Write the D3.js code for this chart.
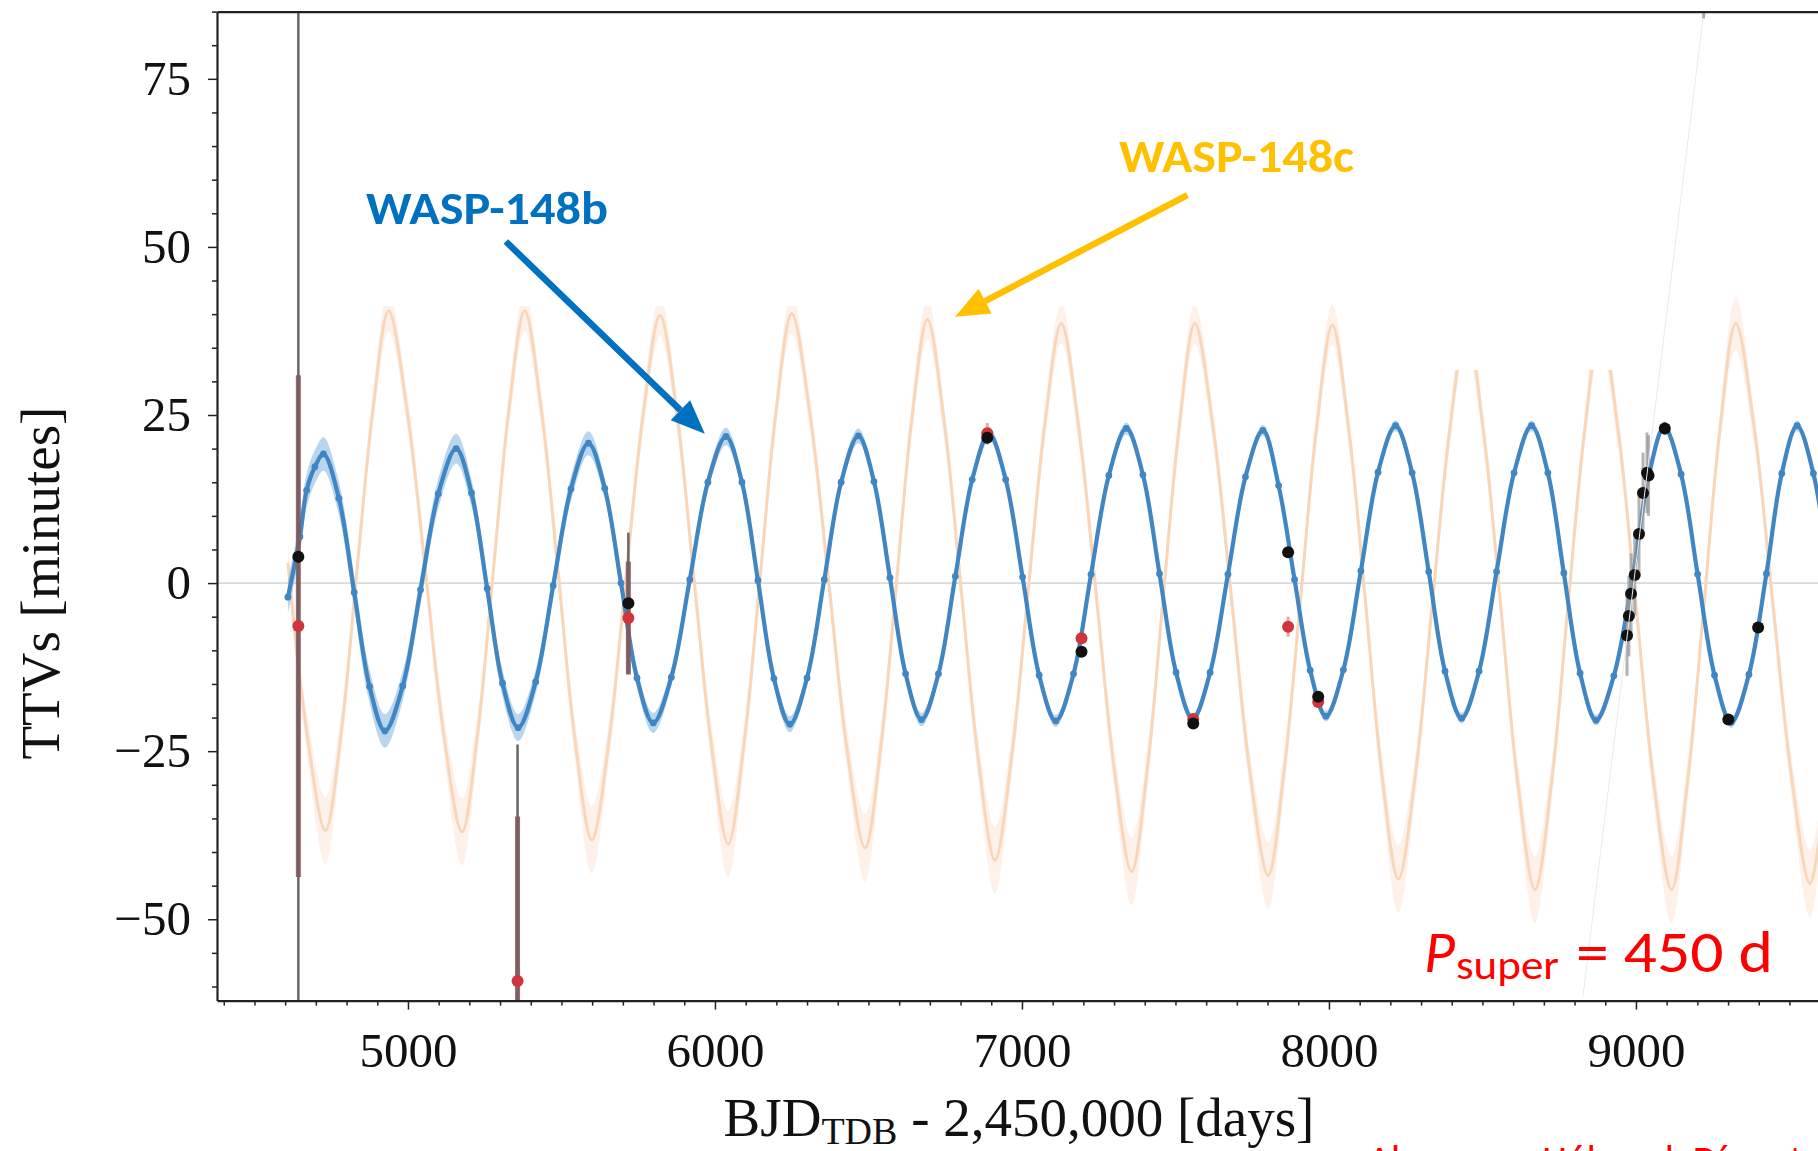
<!DOCTYPE html>
<meta charset="utf-8">
<style>
body { margin: 0; background: #fff; }
svg { display: block; }
</style>
<body>
<script src="https://d3js.org/d3.v7.min.js"></script>
<script>

// WASP-148b model TTVs (days, minutes, 1-sigma band)
var blueDays = [4609, 4648, 4670, 4697, 4725, 4775, 4825, 4875, 4925, 4983, 5041, 5099, 5157, 5207, 5258, 5308,
  5359, 5416, 5473, 5531, 5588, 5641, 5694, 5746, 5799, 5858, 5918, 5977, 6036, 6088, 6140, 6192,
  6244, 6300, 6356, 6411, 6467, 6518, 6570, 6621, 6673, 6728, 6783, 6838, 6893, 6947, 7002, 7056,
  7110, 7168, 7225, 7283, 7340, 7394, 7448, 7502, 7556, 7613, 7671, 7728, 7785, 7836, 7888, 7939,
  7990, 8047, 8104, 8160, 8217, 8271, 8325, 8378, 8432, 8489, 8546, 8603, 8660, 8713, 8765, 8818,
  8870, 8928, 8988, 9042, 9092, 9147, 9201, 9256, 9310, 9368, 9425, 9475, 9525, 9578, 9630];
var blueTTV = [-2.1, 6.9, 13.8, 17.3, 19.2, 12.6, -1.4, -15.4, -22.0, -15.3, -1.0, 13.3, 20.0, 13.4, -0.8, -14.9,
  -21.5, -14.7, -0.4, 14.0, 20.8, 14.1, 0.0, -14.1, -20.8, -14.0, 0.5, 15.0, 21.8, 15.0, 0.4, -14.2,
  -21.0, -14.1, 0.5, 15.0, 21.9, 15.1, 0.8, -13.5, -20.3, -13.5, 1.0, 15.4, 22.2, 15.4, 0.9, -13.7,
  -20.5, -13.5, 1.3, 16.0, 23.0, 16.1, 1.4, -13.3, -20.2, -13.3, 1.3, 15.8, 22.7, 14.5, 0.5, -13.0,
  -19.8, -12.9, 1.8, 16.5, 23.4, 16.4, 1.7, -13.1, -20.1, -13.1, 1.7, 16.4, 23.4, 16.4, 1.5, -13.4,
  -20.4, -13.8, 0.5, 16.0, 23.2, 16.2, 1.3, -13.7, -20.7, -13.6, 1.4, 16.3, 23.4, 16.3, 1.4];
var blueErr = [2.5, 2.5, 2.5, 2.5, 2.5, 2.5, 2.5, 2.5, 2.5, 2.2, 2.2, 2.2, 2.2, 2.0, 2.0, 2.0,
  2.0, 1.8, 1.8, 1.8, 1.8, 1.5, 1.5, 1.5, 1.5, 1.3, 1.3, 1.3, 1.3, 1.2, 1.2, 1.2,
  1.2, 1.1, 1.1, 1.1, 1.1, 1.0, 1.0, 1.0, 1.0, 1.0, 1.0, 1.0, 1.0, 0.9, 0.9, 0.9,
  0.9, 0.9, 0.9, 0.9, 0.9, 0.8, 0.8, 0.8, 0.8, 0.8, 0.8, 0.8, 0.8, 0.8, 0.8, 0.8,
  0.8, 0.8, 0.8, 0.8, 0.8, 0.8, 0.8, 0.8, 0.8, 0.8, 0.8, 0.8, 0.8, 0.8, 0.8, 0.8,
  0.8, 0.8, 0.8, 0.8, 0.8, 0.8, 0.8, 0.8, 0.8, 0.8, 0.8, 0.8, 0.8, 0.8, 0.8];

// WASP-148c model TTVs
var orangeDays = [4609, 4670, 4731, 4783, 4834, 4886, 4937, 4997, 5057, 5116, 5176, 5227, 5278, 5329, 5380, 5435,
  5490, 5544, 5599, 5655, 5710, 5766, 5821, 5877, 5932, 5988, 6043, 6095, 6147, 6198, 6250, 6310,
  6370, 6429, 6489, 6540, 6591, 6641, 6692, 6747, 6802, 6857, 6912, 6966, 7020, 7074, 7128, 7185,
  7243, 7300, 7357, 7409, 7460, 7512, 7563, 7623, 7683, 7742, 7802, 7854, 7907, 7959, 8011, 8065,
  8119, 8172, 8226, 8282, 8337, 8393, 8448, 8504, 8560, 8615, 8671, 8725, 8778, 8832, 8885, 8943,
  9001, 9058, 9116, 9168, 9221, 9273, 9325, 9386, 9446, 9507, 9567, 9620];
var orangeTTV = [3.0, -22.0, -36.8, -22.1, 1.9, 25.8, 40.5, 25.8, 1.8, -22.3, -37.0, -22.3, 1.8, 25.8, 40.5, 25.6,
  1.2, -23.3, -38.2, -23.4, 0.8, 25.0, 39.8, 24.9, 0.5, -23.9, -38.8, -23.8, 0.7, 25.1, 40.1, 25.0,
  0.4, -24.3, -39.4, -24.5, -0.1, 24.3, 39.2, 23.9, -1.0, -25.9, -41.2, -26.0, -1.3, 23.4, 38.6, 23.1,
  -2.2, -27.4, -42.9, -27.4, -2.2, 23.1, 38.6, 23.0, -2.5, -27.9, -43.5, -27.9, -2.6, 22.8, 38.4, 22.7,
  -2.8, -28.3, -44.0, -28.4, -2.9, 22.6, 38.2, 22.3, -3.7, -29.7, -45.6, -29.7, -3.7, 22.3, 38.2, 22.3,
  -3.7, -29.7, -45.6, -29.6, -3.5, 22.6, 38.6, 22.8, -3.1, -28.9, -44.7, -29.0];
var orangeErr = [3, 3, 5, 3, 2.5, 2.5, 3, 2.5, 2.5, 3, 5, 3, 2.5, 2.5, 3, 2.5,
  2.5, 3, 5, 3, 2.5, 2.5, 3, 2.5, 2.5, 3, 5, 3, 2.5, 2.5, 3, 2.5,
  2.5, 3, 5, 3, 2.5, 2.5, 3, 2.5, 2.5, 3, 5, 3, 2.5, 2.5, 3, 2.5,
  2.5, 3, 5, 3, 2.5, 2.5, 3, 2.5, 2.5, 3, 5, 3, 2.5, 2.5, 3, 2.5,
  2.5, 3, 5, 3, 2.5, 2.5, 3, 2.5, 2.5, 3, 5, 3, 2.5, 2.5, 3, 2.5,
  2.5, 3, 5, 3, 2.5, 2.5, 4, 2.5, 2.5, 3, 5, 3];

// observed transits (black) and alternative fit (red)
var obsDays = [4643, 5357, 5718, 6887, 7194, 7558, 7867, 7965, 8971, 8977, 8984, 8996, 9010, 9023, 9036, 9041, 9094, 9301, 9398];
var obsTTV  = [3.9, -64.0, -3.0, 21.6, -10.2, -20.9, 4.6, -16.9, -7.8, -4.9, -1.6, 1.2, 7.3, 13.4, 16.4, 16.0, 23.0, -20.3, -6.6];
var obsErr  = [120, 40, 10.5, 1.0, 0.8, 0.8, 0.8, 0.8, 6, 6, 6, 6, 6, 6, 6, 6, 1.0, 0.8, 0.8];
var altDays = [4643, 5357, 5718, 6887, 7194, 7558, 7867, 7965];
var altTTV  = [-6.4, -59.2, -5.2, 22.3, -8.2, -20.2, -6.5, -17.7];
var altErr  = [37.3, 24.5, 8.4, 1.5, 0.8, 0.8, 1.5, 0.8];

// white patches pasted over the figure (day range, lower TTV edge)
var patchFrom  = [4660, 8052];
var patchTo    = [7977, 8990];
var patchFloor = [41.2, 31.7];

// tick labels
var xMajor = [5000, 6000, 7000, 8000, 9000];
var yMajor = [-50, -25, 0, 25, 50, 75];

var W = 1818, H = 1151;
var x = d3.scaleLinear().domain([4378, 9593]).range([217, 1818]);
var y = d3.scaleLinear().domain([-62.1, 85]).range([1000.6, 11.6]);

var blue = blueDays.map(function(d, i) { return {day: d, ttv: blueTTV[i], err: blueErr[i]}; });
var orange = orangeDays.map(function(d, i) { return {day: d, ttv: orangeTTV[i], err: orangeErr[i]}; });
var obs = obsDays.map(function(d, i) { return {day: d, ttv: obsTTV[i], err: obsErr[i]}; });
var alt = altDays.map(function(d, i) { return {day: d, ttv: altTTV[i], err: altErr[i]}; });

var svg = d3.select("body").append("svg")
    .attr("width", W)
    .attr("height", H)
    .style("background", "#fff");

svg.append("clipPath").attr("id", "plot")
  .append("rect")
    .attr("x", x.range()[0]).attr("y", y.range()[1])
    .attr("width", x.range()[1] - x.range()[0])
    .attr("height", y.range()[0] - y.range()[1]);

var g = svg.append("g").attr("clip-path", "url(#plot)");

// zero line
g.append("line")
    .attr("x1", x.range()[0]).attr("x2", x.range()[1])
    .attr("y1", y(0)).attr("y2", y(0))
    .attr("stroke", "#dadada").attr("stroke-width", 1.8);

var curve = d3.curveCatmullRom.alpha(0.5);
var band = d3.area()
    .x(function(d) { return x(d.day); })
    .y0(function(d) { return y(d.ttv - d.err); })
    .y1(function(d) { return y(d.ttv + d.err); })
    .curve(curve);
var line = d3.line()
    .x(function(d) { return x(d.day); })
    .y(function(d) { return y(d.ttv); })
    .curve(curve);

// planet c
g.append("path").datum(orange).attr("d", band)
    .attr("fill", "#fdeee3").attr("opacity", 0.8);
g.append("path").datum(orange).attr("d", line)
    .attr("fill", "none").attr("stroke", "#f8d6ba").attr("stroke-width", 3);

// planet b
g.append("path").datum(blue).attr("d", band)
    .attr("fill", "#8cbbe2").attr("opacity", 0.6);
g.append("path").datum(blue).attr("d", line)
    .attr("fill", "none").attr("stroke", "#3f86c2").attr("stroke-width", 4.2);
g.selectAll(".bdot").data(blue).enter().append("circle")
    .attr("class", "bdot")
    .attr("cx", function(d) { return x(d.day); })
    .attr("cy", function(d) { return y(d.ttv); })
    .attr("r", 3.4)
    .attr("fill", "#3f86c2");

// error bars
g.selectAll(".aerr").data(alt).enter().append("line")
    .attr("class", "aerr")
    .attr("x1", function(d) { return x(d.day); })
    .attr("x2", function(d) { return x(d.day); })
    .attr("y1", function(d) { return y(d.ttv - d.err); })
    .attr("y2", function(d) { return y(d.ttv + d.err); })
    .attr("stroke", function(d) { return d.err > 5 ? "#9e5058" : "#f19a9a"; })
    .attr("stroke-width", function(d) { return d.err > 5 ? 5 : 3; })
    .attr("opacity", 0.9);
g.selectAll(".oerr").data(obs).enter().append("line")
    .attr("class", "oerr")
    .attr("x1", function(d) { return x(d.day); })
    .attr("x2", function(d) { return x(d.day); })
    .attr("y1", function(d) { return y(d.ttv - d.err); })
    .attr("y2", function(d) { return y(d.ttv + d.err); })
    .attr("stroke", function(d) { return d.err > 8 ? "#666" : "#9a9a9a"; })
    .attr("stroke-width", function(d) { return d.err > 8 ? 2.5 : 3; })
    .attr("opacity", function(d) { return d.err > 8 ? 1 : 0.75; });

g.selectAll(".adot").data(alt).enter().append("circle")
    .attr("class", "adot")
    .attr("cx", function(d) { return x(d.day); })
    .attr("cy", function(d) { return y(d.ttv); })
    .attr("r", 6)
    .attr("fill", "#cf353c");
g.selectAll(".odot").data(obs).enter().append("circle")
    .attr("class", "odot")
    .attr("cx", function(d) { return x(d.day); })
    .attr("cy", function(d) { return y(d.ttv); })
    .attr("r", 6)
    .attr("fill", "#111");

// pasted white patches
g.selectAll(".patch").data(patchFrom).enter().append("rect")
    .attr("class", "patch")
    .attr("x", function(d) { return x(d); })
    .attr("width", function(d, i) { return x(patchTo[i]) - x(d); })
    .attr("y", y(85))
    .attr("height", function(d, i) { return y(patchFloor[i]) - y(85); })
    .attr("fill", "#fff");

// faint slanted edge of the pasted image
g.append("line")
    .attr("x1", x(9221)).attr("y1", y(85))
    .attr("x2", x(8827)).attr("y2", y(-61.6))
    .attr("stroke", "#ebebeb").attr("stroke-width", 1);
g.append("line")
    .attr("x1", x(9221)).attr("y1", y(85))
    .attr("x2", x(9220)).attr("y2", y(84))
    .attr("stroke", "#aaa").attr("stroke-width", 3);

// axes
var fmt = function(d) { return d < 0 ? "\u2212" + Math.abs(d) : d; };
var serif = "'Liberation Serif', 'Times New Roman', serif";

svg.append("g")
    .attr("transform", "translate(" + x.range()[0] + ",0)")
    .call(d3.axisLeft(y).tickValues(yMajor).tickSize(9).tickSizeOuter(0).tickPadding(17).tickFormat(fmt));
svg.append("g")
    .attr("transform", "translate(" + x.range()[0] + ",0)")
    .call(d3.axisLeft(y).tickValues(d3.range(-60, 86, 5).filter(function(v) { return v % 25 !== 0; }))
      .tickSize(5).tickSizeOuter(0).tickFormat(""))
    .select(".domain").remove();

svg.append("g")
    .attr("transform", "translate(0," + y.range()[0] + ")")
    .call(d3.axisBottom(x).tickValues(xMajor).tickSize(9).tickSizeOuter(0).tickPadding(23).tickFormat(d3.format("d")));
svg.append("g")
    .attr("transform", "translate(0," + y.range()[0] + ")")
    .call(d3.axisBottom(x).tickValues(d3.range(4400, 9600, 100).filter(function(v) { return v % 1000 !== 0; }))
      .tickSize(5).tickSizeOuter(0).tickFormat(""))
    .select(".domain").remove();

svg.append("g")
    .attr("transform", "translate(0," + y.range()[1] + ")")
    .call(d3.axisTop(x).tickValues([]).tickSizeOuter(0));

svg.selectAll(".domain").attr("stroke", "#222").attr("stroke-width", 2.2);
svg.selectAll(".tick line").attr("stroke", "#222").attr("stroke-width", 1.5);
svg.selectAll(".tick text")
    .attr("font-family", serif)
    .attr("font-size", 49)
    .attr("fill", "#111");

// axis titles
svg.append("text")
    .attr("text-anchor", "middle")
    .attr("transform", "translate(59," + y(0) + ")rotate(-90)")
    .attr("font-family", serif)
    .attr("font-size", 55)
    .attr("fill", "#111")
    .text("TTVs [minutes]");

var xt = svg.append("text")
    .attr("text-anchor", "middle")
    .attr("x", 1019).attr("y", 1136)
    .attr("font-family", serif)
    .attr("font-size", 55)
    .attr("fill", "#111");
xt.append("tspan").text("BJD");
xt.append("tspan").attr("font-size", 38).attr("dy", 8).text("TDB");
xt.append("tspan").attr("dy", -8).text(" - 2,450,000 [days]");

// annotations
var sans = "Carlito, Calibri, Lato, 'Open Sans', sans-serif";

function arrow(d1, t1, d2, t2, color) {
  var x1 = x(d1), y1 = y(t1), x2 = x(d2), y2 = y(t2);
  var a = Math.atan2(y2 - y1, x2 - x1), L = 34, hw = 14;
  var bx = x2 - L * Math.cos(a), by = y2 - L * Math.sin(a);
  svg.append("line")
      .attr("x1", x1).attr("y1", y1).attr("x2", bx).attr("y2", by)
      .attr("stroke", color).attr("stroke-width", 6.5);
  svg.append("polygon")
      .attr("points", [[x2, y2],
        [bx + hw * Math.sin(a), by - hw * Math.cos(a)],
        [bx - hw * Math.sin(a), by + hw * Math.cos(a)]].join(" "))
      .attr("fill", color);
}

svg.append("text")
    .attr("x", 366).attr("y", 224)
    .attr("font-family", sans).attr("font-weight", "bold").attr("font-size", 47)
    .attr("textLength", 242).attr("lengthAdjust", "spacingAndGlyphs")
    .attr("fill", "#0070c0")
    .text("WASP-148b");
arrow(5319, 50.8, 5967, 22.2, "#0070c0");

svg.append("text")
    .attr("x", 1119).attr("y", 172)
    .attr("font-family", sans).attr("font-weight", "bold").attr("font-size", 47)
    .attr("textLength", 235).attr("lengthAdjust", "spacingAndGlyphs")
    .attr("fill", "#ffc000")
    .text("WASP-148c");
arrow(7539, 57.7, 6782, 39.6, "#ffc000");

svg.append("text")
    .attr("x", 1424).attr("y", 972)
    .attr("font-family", sans).attr("font-style", "italic").attr("font-size", 60)
    .attr("fill", "#ff0000")
    .text("P");
svg.append("text")
    .attr("x", 1456).attr("y", 979)
    .attr("font-family", sans).attr("font-size", 41)
    .attr("textLength", 103).attr("lengthAdjust", "spacingAndGlyphs")
    .attr("fill", "#ff0000")
    .text("super");
svg.append("text")
    .attr("x", 1576).attr("y", 972)
    .attr("font-family", sans).attr("font-size", 60)
    .attr("textLength", 197).attr("lengthAdjust", "spacingAndGlyphs")
    .attr("fill", "#ff0000")
    .text("= 450 d");

svg.append("text")
    .attr("x", 1368).attr("y", 1174)
    .attr("font-family", sans).attr("font-size", 40)
    .attr("textLength", 482).attr("lengthAdjust", "spacingAndGlyphs")
    .attr("fill", "#ff0000")
    .text("Almenara, Hébrard, Díaz et al.");

</script>
</body>
